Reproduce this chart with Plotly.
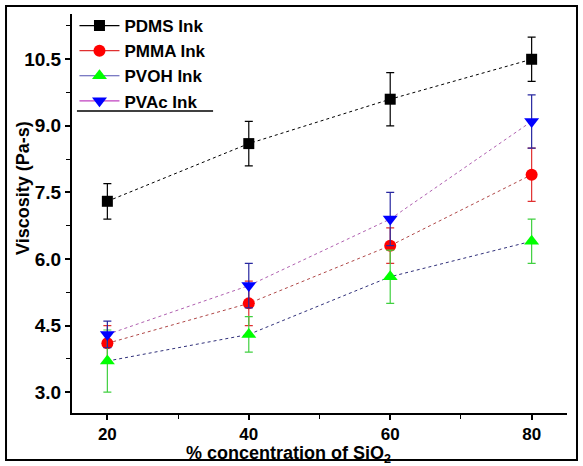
import plotly.graph_objects as go

x_vals = [20, 40, 60, 80]
pdms = [7.3, 8.6, 9.6, 10.5]
pdms_err = [0.4, 0.5, 0.6, 0.5]
pmma = [4.1, 5.0, 6.3, 7.9]
pmma_err = [0.4, 0.5, 0.4, 0.6]
pvoh = [3.7, 4.3, 5.6, 6.4]
pvoh_err = [0.7, 0.4, 0.6, 0.5]
pvac = [4.3, 5.4, 6.9, 9.1]
pvac_err = [0.3, 0.5, 0.6, 0.6]

series = [
    ("PDMS Ink", pdms, pdms_err, "#000000", "#000000", "#000000", "#000000", "square", 11),
    ("PMMA Ink", pmma, pmma_err, "#b04848", "#e03030", "#ff0000", "#e03030", "circle", 12),
    ("PVOH Ink", pvoh, pvoh_err, "#30307a", "#40d040", "#00ff00", "#5050b0", "triangle-up", 13),
    ("PVAc Ink", pvac, pvac_err, "#b060b0", "#2828a0", "#0000ff", "#c040c0", "triangle-down", 13),
]

FONT = "Liberation Sans, Arial, sans-serif"
fig = go.Figure()
for name, yv, ev, lc, ec, mc, legc, sym, ms in series:
    fig.add_trace(go.Scatter(
        x=x_vals, y=yv, name=name, mode="lines+markers", showlegend=False,
        line=dict(color=lc, width=1, dash="dot"),
        marker=dict(symbol=sym, size=ms, color=mc, line=dict(width=0)),
        error_y=dict(type="data", array=ev, visible=True, color=ec, thickness=1.2, width=4),
    ))
for name, yv, ev, lc, ec, mc, legc, sym, ms in series:
    fig.add_trace(go.Scatter(
        x=[None], y=[None], name=name, mode="lines+markers", showlegend=True,
        line=dict(color=legc, width=1.2),
        marker=dict(symbol=sym, size=ms, color=mc, line=dict(width=0)),
    ))

fig.update_layout(
    width=583, height=466,
    margin=dict(l=72, r=16, t=14, b=53, autoexpand=False),
    paper_bgcolor="white", plot_bgcolor="white",
    font=dict(family=FONT, color="black"),
    showlegend=True,
    legend=dict(x=0.005, y=1.015, xanchor="left", yanchor="top",
                font=dict(family=FONT, size=17, weight="bold"),
                bgcolor="rgba(0,0,0,0)", itemwidth=40, tracegroupgap=0),
    xaxis=dict(range=[15, 85], tickvals=[20, 40, 60, 80],
               ticks="outside", ticklen=5, tickwidth=1.5, tickcolor="black",
               minor=dict(tickvals=[30, 50, 70], ticks="outside", ticklen=4, tickcolor="black", tickwidth=1.2),
               showline=True, linecolor="black", linewidth=2, showgrid=False, zeroline=False,
               tickfont=dict(family=FONT, size=17, weight="bold")),
    yaxis=dict(range=[2.53, 11.52], tickvals=[3.0, 4.5, 6.0, 7.5, 9.0, 10.5],
               ticktext=["3.0", "4.5", "6.0", "7.5", "9.0", "10.5"],
               ticks="outside", ticklen=5, tickwidth=1.5, tickcolor="black",
               minor=dict(tickvals=[3.75, 5.25, 6.75, 8.25, 9.75, 11.25], ticks="outside", ticklen=4, tickcolor="black", tickwidth=1.2),
               showline=True, linecolor="black", linewidth=2, showgrid=False, zeroline=False,
               tickfont=dict(family=FONT, size=19, weight="bold")),
    annotations=[
        dict(text="Viscosity (Pa-s)", textangle=-90, xref="paper", yref="paper",
             x=-0.099, y=0.564, xanchor="center", yanchor="middle", showarrow=False,
             font=dict(family=FONT, size=18, weight="bold")),
        dict(text="% concentration of SiO<sub>2</sub>", xref="paper", yref="paper",
             x=0.438, y=-0.104, xanchor="center", yanchor="middle", showarrow=False,
             font=dict(family=FONT, size=18, weight="bold")),
    ],
    shapes=[
        dict(type="rect", xref="paper", yref="paper", x0=-0.1333, x1=1.0202, y0=-0.1178, y1=1.0201,
             line=dict(color="black", width=2)),
        dict(type="line", xref="paper", yref="paper", x0=0.01, x1=0.285, y0=0.757, y1=0.757,
             line=dict(color="black", width=1.5)),
    ],
)

fig.write_html("out.html", config={"displayModeBar": False},
               post_script="document.body.style.margin='0';")
